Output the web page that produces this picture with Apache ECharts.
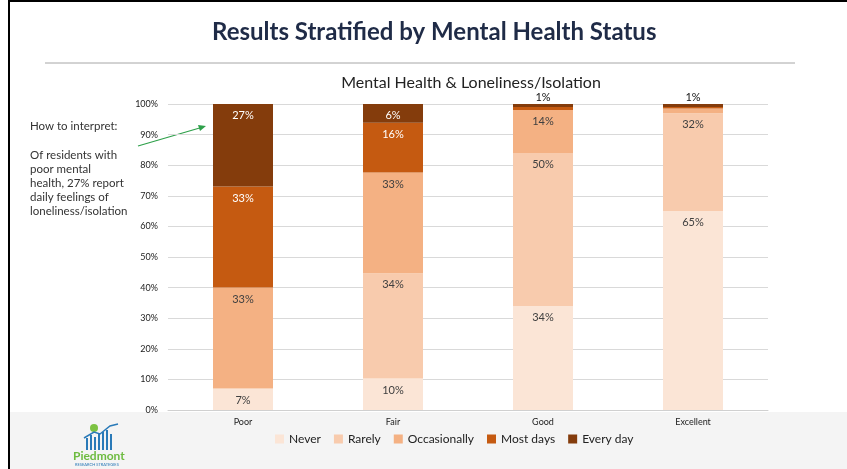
<!DOCTYPE html>
<html>
<head>
<meta charset="utf-8">
<script src="https://cdn.jsdelivr.net/npm/echarts@6/dist/echarts.min.js"></script>
<style>
  html, body { margin: 0; padding: 0; background: #fff; }
  #main { width: 847px; height: 469px; }
</style>
</head>
<body>
<div id="main"></div>
<script>
// data (percent of each group)
const categories = ['Poor', 'Fair', 'Good', 'Excellent'];
const seriesNames = ['Never', 'Rarely', 'Occasionally', 'Most days', 'Every day'];
const never = [7, 10.3, 34, 65];
const rarely = [0, 34.4, 50, 32];
const occasionally = [33, 32.9, 14, 1.5];
const mostDays = [33, 16.3, 1, 0.5];
const everyDay = [27, 6.1, 1, 1];
const colors = ['#FBE5D6', '#F8CBAD', '#F4B183', '#C55A11', '#843C0C'];
const labelColors = ['#404040', '#404040', '#404040', '#ffffff', '#ffffff'];

const chart = echarts.init(document.getElementById('main'));
const font = 'Lato, "Open Sans", sans-serif';

const allValues = [never, rarely, occasionally, mostDays, everyDay];
const series = allValues.map(function (vals, i) {
    return {
        name: seriesNames[i],
        type: 'bar',
        stack: 'all',
        barWidth: 60,
        itemStyle: { color: colors[i] },
        label: {
            show: true,
            position: 'insideTop',
            distance: 6,
            color: labelColors[i],
            fontSize: 11,
            fontFamily: font,
            formatter: function (p) { return p.value >= 5 ? Math.round(p.value) + '%' : ''; }
        },
        data: vals.map(function (v) {
            if (i === 4 && v < 3) {
                return {
                    value: v,
                    label: { position: 'top', distance: 1, color: '#111', formatter: Math.round(v) + '%' }
                };
            }
            return v;
        })
    };
});

chart.setOption({
    backgroundColor: '#ffffff',
    title: {
        text: 'Mental Health & Loneliness/Isolation',
        left: 466, top: 70, textAlign: 'center',
        textStyle: { fontSize: 16, fontWeight: 'normal', color: '#222', fontFamily: font }
    },
    grid: { left: 168, right: 79, top: 104, bottom: 59 },
    xAxis: {
        type: 'category',
        data: categories,
        axisTick: { show: false },
        axisLine: { lineStyle: { color: '#d0d0d0' } },
        axisLabel: { fontSize: 9, color: '#222', margin: 8, fontFamily: font }
    },
    yAxis: {
        type: 'value',
        min: 0, max: 100, interval: 10,
        axisLabel: { formatter: '{value}%', fontSize: 9, color: '#222', margin: 10, fontFamily: font },
        splitLine: { lineStyle: { color: '#d9d9d9' } }
    },
    legend: {
        bottom: 19, left: 270, orient: 'horizontal',
        itemWidth: 9, itemHeight: 9, itemGap: 13,
        icon: 'rect',
        textStyle: { fontSize: 12, color: '#222', fontFamily: font },
        data: seriesNames
    },
    graphic: [
        { type: 'rect', z: -10, shape: { x: 10, y: 412, width: 837, height: 57 }, style: { fill: '#f4f4f4' } },
        { type: 'rect', shape: { x: 8, y: 0, width: 2, height: 469 }, style: { fill: '#000' } },
        { type: 'rect', shape: { x: 8, y: 0, width: 839, height: 2 }, style: { fill: '#000' } },
        {
            type: 'text', left: 212, top: 20,
            style: { text: 'Results Stratified by Mental Health Status', fill: '#1F2B47', fontSize: 24, fontWeight: 'bold', fontFamily: font }
        },
        { type: 'line', shape: { x1: 45, y1: 63, x2: 795, y2: 63 }, style: { stroke: '#a6a6a6', lineWidth: 1 } },
        {
            type: 'text', left: 30, top: 120,
            style: { text: 'How to interpret:', fill: '#333', fontSize: 11.5, fontFamily: font }
        },
        {
            type: 'text', left: 30, top: 148,
            style: {
                text: 'Of residents with\npoor mental\nhealth, 27% report\ndaily feelings of\nloneliness/isolation',
                fill: '#333', fontSize: 11.5, lineHeight: 14, fontFamily: font
            }
        },
        {
            type: 'line', shape: { x1: 138, y1: 146, x2: 203, y2: 127 },
            style: { stroke: '#2ea04a', lineWidth: 1.2 }
        },
        {
            type: 'polygon', shape: { points: [[206, 126], [198, 125], [200, 131]] },
            style: { fill: '#2ea04a' }
        },
        // logo approximation
        { type: 'circle', shape: { cx: 94, cy: 428, r: 4 }, style: { fill: '#7cc242' } },
        { type: 'rect', shape: { x: 86, y: 438, width: 2, height: 12 }, style: { fill: '#2a7ab8' } },
        { type: 'rect', shape: { x: 90, y: 435, width: 2, height: 15 }, style: { fill: '#2a7ab8' } },
        { type: 'rect', shape: { x: 94, y: 437, width: 2, height: 13 }, style: { fill: '#2a7ab8' } },
        { type: 'rect', shape: { x: 98, y: 433, width: 2, height: 17 }, style: { fill: '#2a7ab8' } },
        { type: 'rect', shape: { x: 102, y: 432, width: 2, height: 18 }, style: { fill: '#2a7ab8' } },
        { type: 'rect', shape: { x: 106, y: 430, width: 2, height: 20 }, style: { fill: '#2a7ab8' } },
        { type: 'rect', shape: { x: 110, y: 434, width: 2, height: 16 }, style: { fill: '#2a7ab8' } },
        { type: 'polyline', shape: { points: [[84, 438], [94, 432], [100, 434], [110, 426], [118, 424]] }, style: { stroke: '#2a7ab8', lineWidth: 1.5, fill: null } },
        {
            type: 'text', left: 73, top: 450,
            style: { text: 'Piedmont', fill: '#6dbb3f', fontSize: 12, fontWeight: 'bold', fontFamily: font }
        },
        {
            type: 'text', left: 75, top: 463,
            style: { text: 'RESEARCH STRATEGIES', fill: '#2a7ab8', fontSize: 4, fontFamily: font }
        }
    ],
    series: series
});
</script>
</body>
</html>
